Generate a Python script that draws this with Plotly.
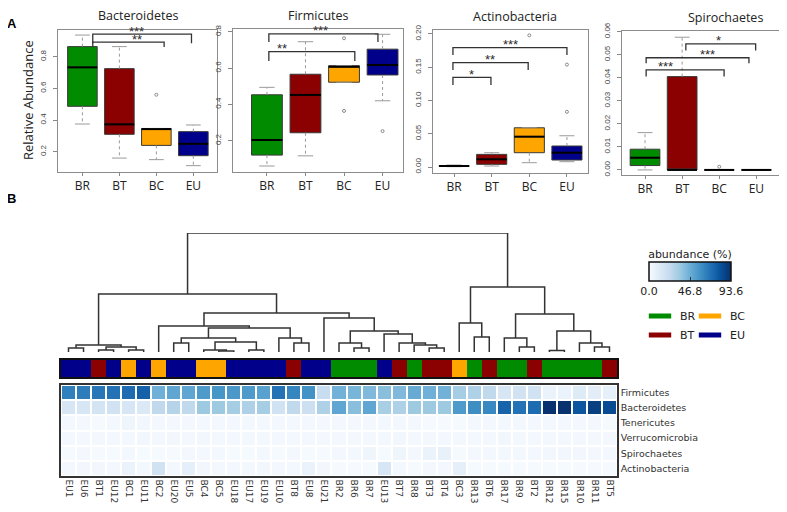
import plotly.graph_objects as go

W, H = 787, 512

# ---------------- data : panel A (box plots) ----------------
GROUPS = ["BR", "BT", "BC", "EU"]
GROUP_COLORS = ["#008b00", "#8b0000", "#ffa500", "#00008b"]
BOX_TITLES = ["Bacteroidetes", "Firmicutes", "Actinobacteria", "Spirochaetes"]

BACT_LOW = [0.375, 0.160, 0.150, 0.112]
BACT_Q1 = [0.487, 0.310, 0.240, 0.175]
BACT_MED = [0.733, 0.373, 0.343, 0.250]
BACT_Q3 = [0.864, 0.725, 0.347, 0.327]
BACT_UP = [0.937, 0.864, 0.347, 0.369]
BACT_OUT = [(2, 0.56)]

FIRM_LOW = [0.061, 0.117, 0.522, 0.420]
FIRM_Q1 = [0.121, 0.244, 0.522, 0.562]
FIRM_MED = [0.204, 0.452, 0.607, 0.617]
FIRM_Q3 = [0.453, 0.566, 0.613, 0.704]
FIRM_UP = [0.494, 0.745, 0.613, 0.786]
FIRM_OUT = [(2, 0.764), (2, 0.364), (3, 0.253)]

ACTI_LOW = [0.0005, 0.0015, 0.0065, 0.0080]
ACTI_Q1 = [0.0010, 0.0040, 0.0215, 0.0105]
ACTI_MED = [0.0015, 0.0116, 0.0456, 0.0215]
ACTI_Q3 = [0.0020, 0.0190, 0.0590, 0.0316]
ACTI_UP = [0.0030, 0.0215, 0.0590, 0.0470]
ACTI_OUT = [(2, 0.198), (3, 0.154), (3, 0.083)]

SPIR_LOW = [0.0, 0.0, 0.0, 0.0]
SPIR_Q1 = [0.0019, 0.0, 0.0, 0.0]
SPIR_MED = [0.0053, 0.0, 0.0, 0.0]
SPIR_Q3 = [0.0090, 0.0405, 0.0, 0.0]
SPIR_UP = [0.0162, 0.0576, 0.0, 0.0]
SPIR_OUT = [(2, 0.0014)]

BOX_STATS = [
    (BACT_LOW, BACT_Q1, BACT_MED, BACT_Q3, BACT_UP, BACT_OUT),
    (FIRM_LOW, FIRM_Q1, FIRM_MED, FIRM_Q3, FIRM_UP, FIRM_OUT),
    (ACTI_LOW, ACTI_Q1, ACTI_MED, ACTI_Q3, ACTI_UP, ACTI_OUT),
    (SPIR_LOW, SPIR_Q1, SPIR_MED, SPIR_Q3, SPIR_UP, SPIR_OUT),
]

# significance brackets: (x_left, x_right, y_line, y_drop, label, label_x)
BACT_SIG = [(1.28, 3.95, 0.943, 0.886, "***", 2.47), (1.28, 3.21, 0.893, 0.861, "**", 2.47)]
FIRM_SIG = [(1.05, 3.88, 0.788, 0.744, "***", 2.38), (1.05, 3.28, 0.690, 0.639, "**", 1.39)]
ACTI_SIG = [(0.97, 4.00, 0.1794, 0.1684, "***", 2.49), (0.97, 2.97, 0.1568, 0.1459, "**", 1.95),
            (0.97, 1.98, 0.1349, 0.1233, "*", 1.45)]
SPIR_SIG = [(1.03, 3.13, 0.0434, 0.0405, "***", 1.54), (1.03, 3.80, 0.0487, 0.0463, "***", 2.67),
            (2.10, 3.98, 0.0547, 0.0518, "*", 2.99)]
SIGS = [BACT_SIG, FIRM_SIG, ACTI_SIG, SPIR_SIG]

BACT_TICKS = [0.2, 0.4, 0.6, 0.8]
BACT_TICKTEXT = ["0.2", "0.4", "0.6", "0.8"]
ACTI_TICKS = [0.0, 0.05, 0.10, 0.15, 0.20]
ACTI_TICKTEXT = ["0.00", "0.05", "0.10", "0.15", "0.20"]
SPIR_TICKS = [0.0, 0.01, 0.02, 0.03, 0.04, 0.05, 0.06]
SPIR_TICKTEXT = ["0.00", "0.01", "0.02", "0.03", "0.04", "0.05", "0.06"]
Y_TICKS = [(BACT_TICKS, BACT_TICKTEXT), (BACT_TICKS, BACT_TICKTEXT),
           (ACTI_TICKS, ACTI_TICKTEXT), (SPIR_TICKS, SPIR_TICKTEXT)]

# ---------------- data : panel B (heatmap) ----------------
SAMPLES = ["EU1", "EU6", "BT1", "EU12", "BC1", "EU11", "BC2", "EU20", "EU5", "BC4", "BC5",
           "EU18", "EU17", "EU19", "EU10", "BT8", "EU8", "EU21", "BR2", "BR6", "BR7", "EU13",
           "BT7", "BR8", "BT3", "BT4", "BC3", "BR13", "BT6", "BR17", "BR9", "BT2", "BR12",
           "BR15", "BR10", "BR11", "BT5"]
PHYLA = ["Firmicutes", "Bacteroidetes", "Tenericutes", "Verrucomicrobia", "Spirochaetes",
         "Actinobacteria"]
FIRMICUTES = [65, 66, 68, 70, 72, 76, 46, 50, 50, 55, 57, 56, 55, 52, 70, 63, 58, 22, 45, 44,
              42, 40, 42, 48, 46, 45, 33, 30, 25, 15, 18, 18, 6, 6, 12, 10, 8]
BACTEROIDETES = [15, 15, 17, 18, 15, 13, 25, 28, 25, 35, 35, 33, 30, 33, 18, 25, 20, 30, 50, 40,
                 50, 32, 30, 35, 35, 35, 55, 60, 62, 75, 70, 72, 93, 93, 80, 88, 84]
TENERICUTES = [2, 2, 1, 2, 4, 3, 2, 2, 2, 2, 2, 2, 2, 2, 2, 2, 2, 2, 2, 2, 2, 2, 2, 2, 1, 1, 1,
               2, 2, 2, 2, 2, 2, 2, 2, 2, 1]
VERRUCOMICROBIA = [2, 2, 2, 2, 2, 3, 2, 3, 2, 3, 2, 2, 2, 2, 2, 2, 2, 2, 2, 2, 2, 2, 3, 2, 2, 2,
                   2, 2, 2, 3, 2, 2, 2, 2, 2, 2, 2]
SPIROCHAETES = [1, 2, 1, 1, 2, 1, 1, 1, 2, 2, 2, 1, 1, 2, 1, 2, 1, 1, 2, 2, 4, 1, 4, 2, 6, 7, 1,
                2, 2, 2, 2, 2, 3, 3, 3, 2, 2]
ACTINOBACTERIA = [2, 3, 3, 2, 6, 2, 18, 2, 9, 3, 2, 2, 2, 3, 2, 2, 6, 3, 1, 1, 1, 15, 2, 1, 2, 2,
                  9, 1, 1, 1, 1, 1, 1, 1, 1, 1, 1]
HEAT = [FIRMICUTES, BACTEROIDETES, TENERICUTES, VERRUCOMICROBIA, SPIROCHAETES, ACTINOBACTERIA]
ABUND_MAX = 93.6
CBAR_TICKS = [0.0, 46.8, 93.6]
CBAR_TICKTEXT = ["0.0", "46.8", "93.6"]

# dendrogram linkage: (child_a, child_b, height); leaves 0..36, merge k -> 37+k
LINKAGE = [
    (0, 1, 4), (2, 3, 2), (4, 5, 2), (38, 39, 5), (37, 40, 7),
    (7, 8, 9), (10, 11, 1), (9, 43, 2), (12, 13, 2), (44, 45, 10), (42, 46, 14),
    (15, 16, 9), (14, 48, 14), (47, 49, 24), (6, 50, 26),
    (19, 20, 4), (18, 52, 9), (24, 25, 4), (23, 54, 7), (22, 55, 9), (21, 56, 18),
    (53, 57, 21), (17, 58, 34), (51, 59, 39), (41, 60, 58),
    (27, 28, 15), (26, 62, 29), (30, 31, 5), (29, 64, 14), (32, 33, 1.5), (35, 36, 5),
    (34, 67, 9), (66, 68, 21), (65, 69, 38), (63, 70, 65), (61, 71, 119),
]

# ---------------- layout helpers ----------------
# the page body adds an 8 px offset; compensate so targets land on screen pixels
OFF = 8


def fx(p):
    return (p - OFF) / W


def fy(p):
    return 1 - (p - OFF) / H


PANEL_PX = [(58, 217, 30, 172), (233, 403, 29, 172), (433, 588, 30, 173), (622, 782, 31, 175)]
X_RANGES = [[0.34, 4.64], [0.12, 4.53], [0.44, 4.56], [0.38, 4.69]]
Y_RANGES = [[0.072, 0.969], [0.028, 0.815], [-0.009, 0.206], [-0.0022, 0.0603]]
TITLE_PX = [(138, 15), (318, 15), (515, 16), (725, 17)]

fig = go.Figure()
layout = dict(
    width=W, height=H, margin=dict(l=0, r=0, t=0, b=0, autoexpand=False),
    paper_bgcolor="white", plot_bgcolor="white", boxmode="overlay",
    showlegend=True, annotations=[],
)

TXT = "#222222"
WHISK = "#9a9a9a"
for p in range(4):
    sid = "" if p == 0 else str(p + 1)
    xa, ya = "x" + sid, "y" + sid
    low, q1, med, q3, up, outs = BOX_STATS[p]
    # whiskers (dashed stems + solid staples), R style
    wx, wy, cx, cy = [], [], [], []
    for g in range(4):
        pos = g + 1
        wx += [pos, pos, None, pos, pos, None]
        wy += [q3[g], up[g], None, q1[g], low[g], None]
        cx += [pos - 0.2, pos + 0.2, None, pos - 0.2, pos + 0.2, None]
        cy += [up[g], up[g], None, low[g], low[g], None]
    fig.add_trace(go.Scatter(x=wx, y=wy, mode="lines",
                             line=dict(color=WHISK, width=1, dash="dot"),
                             xaxis=xa, yaxis=ya, showlegend=False, hoverinfo="skip"))
    fig.add_trace(go.Scatter(x=cx, y=cy, mode="lines", line=dict(color=WHISK, width=1),
                             xaxis=xa, yaxis=ya, showlegend=False, hoverinfo="skip"))
    for g in range(4):
        pos = g + 1
        fig.add_trace(go.Box(
            x=[pos], lowerfence=[q1[g]], q1=[q1[g]], median=[med[g]], q3=[q3[g]],
            upperfence=[q3[g]], width=0.8, whiskerwidth=0, fillcolor=GROUP_COLORS[g],
            line=dict(color="#3a3a3a", width=1), boxpoints=False, xaxis=xa, yaxis=ya,
            showlegend=False, hoverinfo="skip"))
        fig.add_trace(go.Scatter(
            x=[pos - 0.4, pos + 0.4], y=[med[g], med[g]], mode="lines",
            line=dict(color="black", width=2), xaxis=xa, yaxis=ya,
            showlegend=False, hoverinfo="skip"))
    fig.add_trace(go.Scatter(
        x=[o[0] + 1 for o in outs], y=[o[1] for o in outs], mode="markers",
        marker=dict(symbol="circle-open", size=3, color="#8a8a8a", line=dict(width=1)),
        xaxis=xa, yaxis=ya, showlegend=False, hoverinfo="skip"))
    # significance brackets
    for (x1, x2, yl, yd, lab, lx) in SIGS[p]:
        fig.add_trace(go.Scatter(
            x=[x1, x1, x2, x2], y=[yd, yl, yl, yd], mode="lines",
            line=dict(color="#333333", width=1.3), xaxis=xa, yaxis=ya,
            showlegend=False, hoverinfo="skip"))
        layout["annotations"].append(dict(
            x=lx, y=yl, xref=xa, yref=ya, text=lab, showarrow=False, xanchor="center",
            yanchor="middle", yshift=3,
            font=dict(family="Liberation Sans", size=13, color="#2a2a2a")))
    l, r, t, b = PANEL_PX[p]
    tv, tt = Y_TICKS[p]
    layout["xaxis" + sid] = dict(
        domain=[fx(l), fx(r)], range=X_RANGES[p], anchor=ya, tickvals=[1, 2, 3, 4],
        ticktext=GROUPS, ticks="outside", ticklen=3, tickcolor="#888", showgrid=False,
        zeroline=False, showline=True, mirror=True, linecolor="#8c8c8c", linewidth=1,
        automargin=False, tickfont=dict(family="Open Sans", size=12, color=TXT))
    layout["yaxis" + sid] = dict(
        domain=[fy(b), fy(t)], range=Y_RANGES[p], anchor=xa, tickvals=tv, ticktext=tt,
        tickangle=-90, ticks="outside", ticklen=4, tickcolor="#888", showgrid=False,
        zeroline=False, showline=True, mirror=True, linecolor="#8c8c8c", linewidth=1,
        ticklabelstandoff=4, automargin=False,
        tickfont=dict(family="Liberation Sans", size=8, color="#444"))
    tx, ty = TITLE_PX[p]
    layout["annotations"].append(dict(
        x=fx(tx), y=fy(ty), xref="paper", yref="paper", text=BOX_TITLES[p], showarrow=False,
        xanchor="center", yanchor="middle",
        font=dict(family="Open Sans", size=12.5, color=TXT)))

layout["annotations"] += [
    dict(x=fx(28), y=fy(100), xref="paper", yref="paper", text="Relative Abundance",
         textangle=-90, showarrow=False, xanchor="center", yanchor="middle",
         font=dict(family="Open Sans", size=13, color=TXT)),
    dict(x=fx(12), y=fy(23), xref="paper", yref="paper", text="<b>A</b>", showarrow=False,
         xanchor="center", yanchor="middle",
         font=dict(family="Liberation Sans", size=13, color="black")),
    dict(x=fx(11), y=fy(198), xref="paper", yref="paper", text="<b>B</b>", showarrow=False,
         xanchor="center", yanchor="middle",
         font=dict(family="Liberation Sans", size=13, color="black")),
]

# ---------------- panel B ----------------
n = len(SAMPLES)
XR = [-0.5, n - 0.5]
HX = [fx(61), fx(617)]

# dendrogram
pos = {i: float(i) for i in range(n)}
hgt = {i: 0.0 for i in range(n)}
dx, dy = [], []
for k, (a, b, h) in enumerate(LINKAGE):
    dx += [pos[a], pos[a], pos[b], pos[b], None]
    dy += [hgt[a], h, h, hgt[b], None]
    pos[n + k] = (pos[a] + pos[b]) / 2
    hgt[n + k] = h
fig.add_trace(go.Scatter(x=dx, y=dy, mode="lines", line=dict(color="#333333", width=1.5),
                         xaxis="x5", yaxis="y5", showlegend=False, hoverinfo="skip"))
root_h = max(h for _, _, h in LINKAGE)
layout["xaxis5"] = dict(domain=HX, range=XR, anchor="y5", visible=False, automargin=False)
layout["yaxis5"] = dict(domain=[fy(352), fy(233)], range=[0, root_h], anchor="x5",
                        visible=False, automargin=False)

# group colour strip
gcode = [GROUPS.index(s[:2]) for s in SAMPLES]
strip_scale = []
for i, c in enumerate(GROUP_COLORS):
    strip_scale += [[i / 4, c], [(i + 1) / 4, c]]
fig.add_trace(go.Heatmap(z=[gcode], x=list(range(n)), y=[0], colorscale=strip_scale,
                         zmin=-0.5, zmax=3.5, showscale=False, xaxis="x6", yaxis="y6",
                         hoverinfo="skip"))
layout["xaxis6"] = dict(domain=[fx(60.5), fx(617)], range=XR, anchor="y6", showticklabels=False,
                        ticks="", showgrid=False, zeroline=False, showline=True, mirror=True,
                        linecolor="#111", linewidth=1.5, automargin=False)
layout["yaxis6"] = dict(domain=[fy(377), fy(360)], range=[-0.5, 0.5], anchor="x6",
                        showticklabels=False, ticks="", showgrid=False, zeroline=False,
                        showline=True, mirror=True, linecolor="#111", linewidth=1.5,
                        automargin=False)

# abundance heatmap
BLUES = [[0.0, "rgb(247,251,255)"], [0.125, "rgb(222,235,247)"], [0.25, "rgb(198,219,239)"],
         [0.375, "rgb(158,202,225)"], [0.5, "rgb(107,174,214)"], [0.625, "rgb(66,146,198)"],
         [0.75, "rgb(33,113,181)"], [0.875, "rgb(8,81,156)"], [1.0, "rgb(8,48,107)"]]
fig.add_trace(go.Heatmap(
    z=HEAT, x=list(range(n)), y=list(range(len(PHYLA))), colorscale=BLUES, zmin=0,
    zmax=ABUND_MAX, xgap=2, ygap=2, xaxis="x7", yaxis="y7", hoverinfo="skip",
    colorbar=dict(
        orientation="h", x=fx(690), xanchor="center", y=fy(249), yanchor="top",
        len=82, lenmode="pixels", thickness=19, thicknessmode="pixels",
        outlinewidth=1.5, outlinecolor="#111", tickvals=CBAR_TICKS, ticktext=CBAR_TICKTEXT,
        ticks="inside", ticklen=4, tickcolor="#333", xpad=0, ypad=0,
        tickfont=dict(family="DejaVu Sans", size=11, color=TXT),
        title=dict(text="abundance (%)", side="top",
                   font=dict(family="DejaVu Sans", size=11, color=TXT)))))
layout["xaxis7"] = dict(domain=HX, range=XR, anchor="y7", tickvals=list(range(n)),
                        ticktext=SAMPLES, tickangle=90, ticks="", showgrid=False,
                        zeroline=False, showline=True, mirror=True, linecolor="#333",
                        linewidth=1.5, automargin=False,
                        tickfont=dict(family="DejaVu Sans", size=9, color="#333"))
layout["yaxis7"] = dict(domain=[fy(476), fy(385)], range=[len(PHYLA) - 0.5, -0.5], anchor="x7",
                        side="right", tickvals=list(range(len(PHYLA))), ticktext=PHYLA,
                        ticks="", showgrid=False, zeroline=False, showline=True, mirror=True,
                        linecolor="#333", linewidth=1.5, automargin=False,
                        tickfont=dict(family="DejaVu Sans", size=9.5, color="#333"))

# group legend (one legend per entry, laid out 2 x 2)
LEGEND_PX = {"BR": (640, 316), "BC": (690, 316), "BT": (640, 335), "EU": (690, 335)}
for i, gname in enumerate(GROUPS):
    lid = "legend" if i == 0 else "legend%d" % (i + 1)
    fig.add_trace(go.Scatter(x=[None], y=[None], mode="markers", name=gname,
                             marker=dict(symbol="line-ew", size=16,
                                         line=dict(color=GROUP_COLORS[i], width=5)),
                             legend=lid, xaxis="x5", yaxis="y5", hoverinfo="skip"))
    lx, ly = LEGEND_PX[gname]
    layout[lid] = dict(x=fx(lx), y=fy(ly), xanchor="left", yanchor="middle",
                       bgcolor="rgba(0,0,0,0)", itemwidth=30, borderwidth=0,
                       font=dict(family="DejaVu Sans", size=11, color=TXT))

fig.update_layout(**layout)
fig.write_html("out.html")
